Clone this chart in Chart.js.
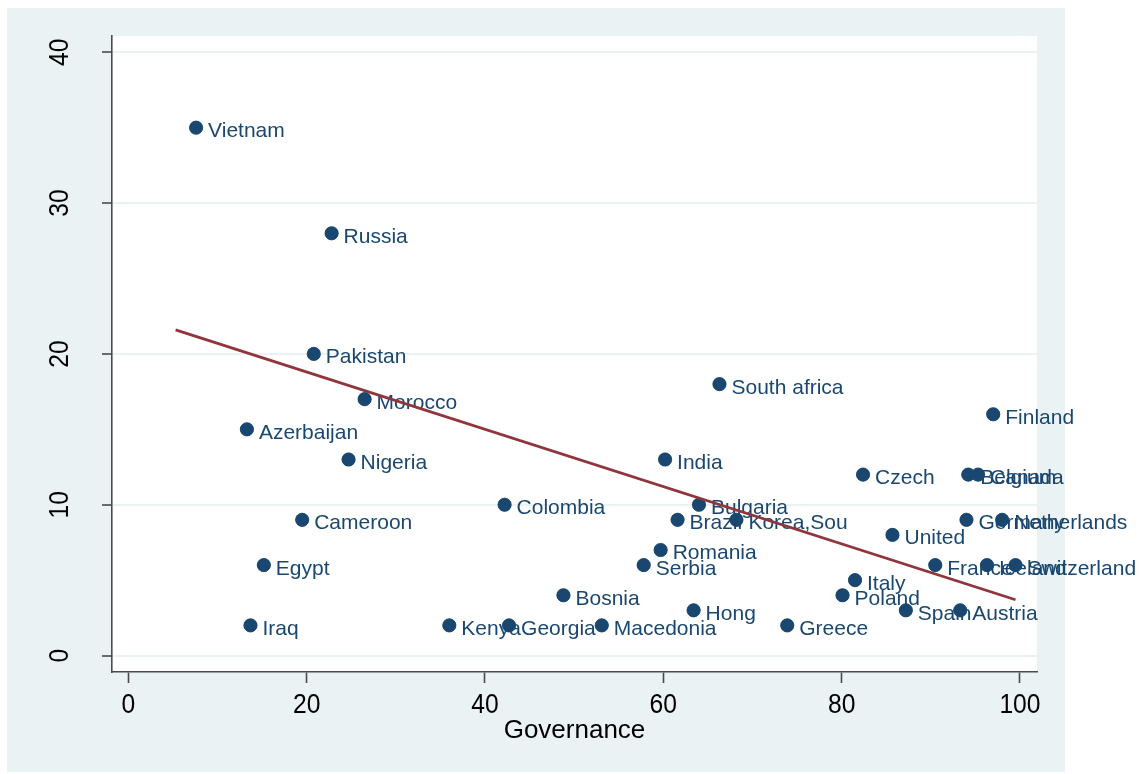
<!DOCTYPE html>
<html>
<head>
<meta charset="utf-8">
<title>Governance scatter</title>
<script src="https://cdn.jsdelivr.net/npm/chart.js@4/dist/chart.umd.min.js"></script>
<style>
  html, body { margin: 0; padding: 0; background: #ffffff; }
  #wrap { width: 1142px; height: 774px; }
</style>
</head>
<body>
<div id="wrap"><canvas id="c" width="1142" height="774"></canvas></div>
<script>
// Countries, ordered by governance score
const countries = ["Vietnam","Azerbaijan","Iraq","Egypt","Cameroon","Pakistan","Russia","Nigeria","Morocco","Kenya",
  "Colombia","Georgia","Bosnia","Macedonia","Serbia","Romania","India","Brazil","Hong","Bulgaria",
  "South africa","Korea,Sou","Greece","Poland","Italy","Czech","United","Spain","France","Austria",
  "Germany","Belgium","Canada","Iceland","Finland","Netherlands","Switzerland"];
const governance = [7.6, 13.3, 13.7, 15.2, 19.5, 20.8, 22.8, 24.7, 26.5, 36.0,
  42.2, 42.7, 48.8, 53.1, 57.8, 59.7, 60.2, 61.6, 63.4, 64.0,
  66.3, 68.2, 73.9, 80.1, 81.5, 82.4, 85.7, 87.2, 90.5, 93.3,
  94.0, 94.2, 95.3, 96.3, 97.0, 98.0, 99.5];
const outcome = [35, 15, 2, 6, 9, 20, 28, 13, 17, 2,
  10, 2, 4, 2, 6, 7, 13, 9, 3, 10,
  18, 9, 2, 4, 5, 12, 8, 3, 6, 3,
  9, 12, 12, 6, 16, 9, 6];

// Linear fit endpoints
const fitX = [5.3, 99.5];
const fitY = [21.6, 3.7];

// Axis ticks
const xTicks = [0, 20, 40, 60, 80, 100];
const yTicks = [0, 10, 20, 30, 40];

const NAVY = '#1a476f';
const MAROON = '#90353b';
const BG = '#eaf2f3';
const AXIS = '#4a4a4a';
const FONT = '"Liberation Sans", Arial, Helvetica, sans-serif';

const scatterPoints = governance.map((g, i) => ({ x: g, y: outcome[i] }));
const fitPoints = fitX.map((x, i) => ({ x: x, y: fitY[i] }));

// Panel backgrounds: outer light region, white plot region
const backgroundPlugin = {
  id: 'panels',
  beforeDraw(chart) {
    const { ctx, chartArea: a } = chart;
    ctx.save();
    ctx.fillStyle = '#ffffff';
    ctx.fillRect(0, 0, chart.width, chart.height);
    ctx.fillStyle = BG;
    ctx.fillRect(7, 8, 1058, 764);
    ctx.fillStyle = '#ffffff';
    ctx.fillRect(a.left, a.top, a.right - a.left, a.bottom - a.top);
    ctx.restore();
  }
};

// Markers with their country labels, drawn point by point
const markerLabelPlugin = {
  id: 'markerLabels',
  afterDatasetDraw(chart, args) {
    if (args.index !== 1) return;
    const { ctx, chartArea } = chart;
    const meta = args.meta;
    ctx.save();
    ctx.font = '21px ' + FONT;
    ctx.textAlign = 'left';
    ctx.textBaseline = 'alphabetic';
    meta.data.forEach((el, i) => {
      el.draw(ctx, chartArea);
      ctx.fillStyle = NAVY;
      ctx.fillText(countries[i], el.x + 12, el.y + 9.5);
    });
    ctx.restore();
  }
};

// Tick labels: horizontal on x, rotated on y
const tickLabelPlugin = {
  id: 'tickLabels',
  afterDraw(chart) {
    const { ctx } = chart;
    const xs = chart.scales.x, ys = chart.scales.y;
    ctx.save();
    ctx.font = '28px ' + FONT;
    ctx.fillStyle = '#000000';
    ctx.textAlign = 'center';
    ctx.textBaseline = 'alphabetic';
    xTicks.forEach(v => {
      const px = xs.getPixelForValue(v);
      ctx.save();
      ctx.translate(px, 713);
      ctx.scale(0.88, 1);
      ctx.fillText(String(v), 0, 0);
      ctx.restore();
    });
    yTicks.forEach(v => {
      const py = ys.getPixelForValue(v);
      ctx.save();
      ctx.translate(68, py);
      ctx.rotate(-Math.PI / 2);
      ctx.scale(0.88, 1);
      ctx.fillText(String(v), 0, 0);
      ctx.restore();
    });
    ctx.restore();
  }
};

new Chart(document.getElementById('c'), {
  type: 'scatter',
  data: {
    datasets: [
      {
        label: 'Fitted values',
        data: fitPoints,
        showLine: true,
        borderColor: MAROON,
        borderWidth: 2.8,
        pointRadius: 0,
        fill: false,
        order: 0
      },
      {
        label: 'Countries',
        data: scatterPoints,
        backgroundColor: NAVY,
        borderColor: NAVY,
        borderWidth: 0.5,
        pointRadius: 6.6,
        order: 1
      }
    ]
  },
  options: {
    responsive: false,
    animation: false,
    devicePixelRatio: 1,
    layout: { padding: { left: 0, top: 36, right: 105, bottom: 0 } },
    plugins: {
      legend: { display: false },
      tooltip: { enabled: false }
    },
    scales: {
      x: {
        type: 'linear',
        min: -1.83,
        max: 101.91,
        afterBuildTicks(scale) { scale.ticks = xTicks.map(v => ({ value: v })); },
        afterFit(scale) { scale.height = 102; },
        ticks: { display: false },
        grid: {
          drawOnChartArea: false,
          drawTicks: true,
          tickLength: 11,
          tickColor: AXIS,
          tickWidth: 1.6
        },
        border: { display: true, color: AXIS, width: 1.6 },
        title: {
          display: true,
          text: 'Governance',
          color: '#000000',
          font: { family: FONT, size: 26 },
          padding: { top: 0, bottom: 28 }
        }
      },
      y: {
        type: 'linear',
        min: -1.09,
        max: 41.08,
        afterBuildTicks(scale) { scale.ticks = yTicks.map(v => ({ value: v })); },
        afterFit(scale) { scale.width = 112; },
        ticks: { display: false },
        grid: {
          color: BG,
          lineWidth: 2,
          drawTicks: true,
          tickLength: 10,
          tickColor: AXIS,
          tickWidth: 1.6
        },
        border: { display: true, color: AXIS, width: 1.6 }
      }
    }
  },
  plugins: [backgroundPlugin, markerLabelPlugin, tickLabelPlugin]
});
</script>
</body>
</html>
